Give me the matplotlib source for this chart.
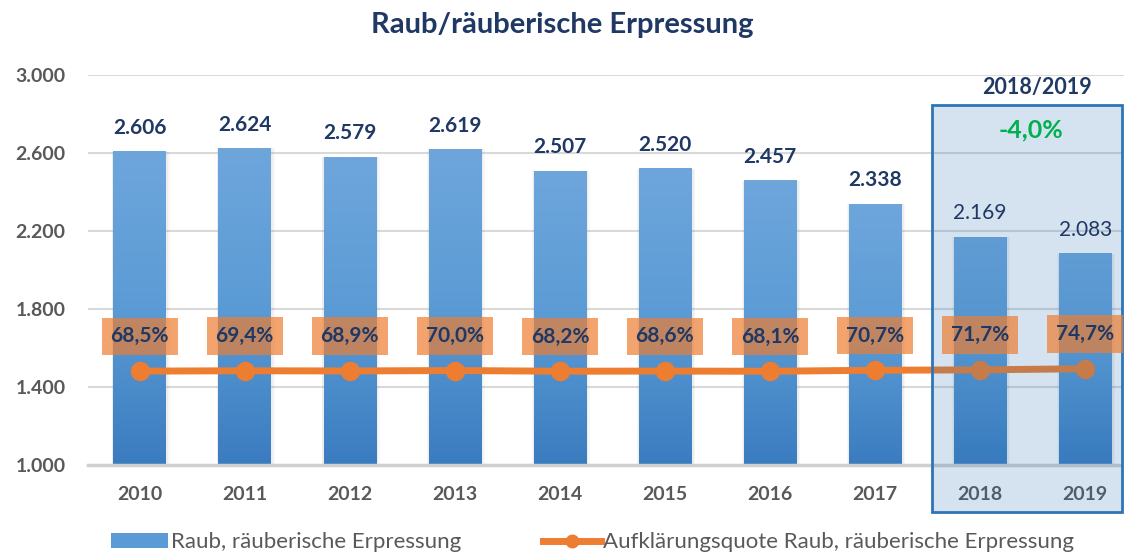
import numpy as np
import matplotlib
matplotlib.use('Agg')
import matplotlib.pyplot as plt
from matplotlib.patches import Rectangle, Patch
from matplotlib.lines import Line2D
from matplotlib.colors import LinearSegmentedColormap

# Fallzahlen und Aufklaerungsquote je Jahr
jahre = ['2010', '2011', '2012', '2013', '2014', '2015', '2016', '2017', '2018', '2019']
faelle = [2606, 2624, 2579, 2619, 2507, 2520, 2457, 2338, 2169, 2083]
quote = [68.5, 69.4, 68.9, 70.0, 68.2, 68.6, 68.1, 70.7, 71.7, 74.7]
y_ticks = [1000, 1400, 1800, 2200, 2600, 3000]
veraenderung = '-4,0%'
zeitraum = '2018/2019'

NAVY = '#1F3864'
GRAU = '#595959'
ORANGE = '#ED7D31'
BLAU = '#2E75B6'

plt.rcParams['font.family'] = ['Lato', 'DejaVu Sans']


def de_zahl(v):
    return f'{v:,.0f}'.replace(',', '.')


def de_prozent(v):
    return f'{v:.1f}%'.replace('.', ',')


fig = plt.figure(figsize=(11.24, 5.53), dpi=100)
ax = fig.add_axes([0.078, 0.159, 0.922, 0.705])
x = np.arange(len(jahre))

# Balken mit Farbverlauf (oben heller, unten dunkler)
verlauf = LinearSegmentedColormap.from_list('verlauf', ['#3A7CC0', '#5B9BD5', '#6EA6DC'])
grad = np.linspace(0, 1, 256).reshape(-1, 1)
breite = 0.5
for xi, v in zip(x, faelle):
    for d, a in [(0.035, 0.06), (0.02, 0.08)]:
        ax.add_patch(Rectangle((xi - breite / 2 - d / 2, 1000 - 8), breite + d * 1.6, v - 1000 + 8 + d * 40,
                               facecolor='#7F7F7F', alpha=a, edgecolor='none', zorder=1.5))
    ax.imshow(grad, cmap=verlauf, origin='lower', aspect='auto', zorder=2,
              extent=(xi - breite / 2, xi + breite / 2, 1000, v))

ax.set_xlim(-0.495, 9.37)
ax.set_ylim(1000, 3000)
ax.set_yticks(y_ticks)
ax.set_yticklabels([de_zahl(t) for t in y_ticks])
ax.set_xticks(x)
ax.set_xticklabels(jahre)
ax.tick_params(axis='both', length=0, colors=GRAU, labelsize=14)
ax.tick_params(axis='y', pad=16)
ax.tick_params(axis='x', pad=15)
for lab in ax.get_xticklabels() + ax.get_yticklabels():
    lab.set_fontweight('bold')
ax.grid(axis='y', color='#D9D9D9', lw=1.5, zorder=0)
ax.set_axisbelow(True)
for s in ['top', 'right', 'left']:
    ax.spines[s].set_visible(False)
ax.spines['bottom'].set_color('#D0D0D0')
ax.spines['bottom'].set_linewidth(2.5)

# Quote auf eigener (unsichtbarer) Achse
ax2 = ax.twinx()
ax2.set_ylim(-172.5, 827.5)
ax2.axis('off')
ax2.plot(x, quote, color=ORANGE, lw=5, marker='o', ms=13, zorder=3)

for i, (xi, q) in enumerate(zip(x, quote)):
    ax2.annotate(de_prozent(q), (xi, q), xytext=(0, 25), textcoords='offset points',
                 ha='center', va='center', fontsize=15, fontweight='bold', color=NAVY, zorder=6,
                 bbox=dict(boxstyle='square,pad=0.42', facecolor=ORANGE, alpha=0.7, edgecolor='none'))

for i, (xi, v) in enumerate(zip(x, faelle)):
    ax2.annotate(de_zahl(v), (xi, v), xycoords=ax.transData, xytext=(0, 10),
                 textcoords='offset points', ha='center', va='bottom', fontsize=15,
                 fontweight='bold' if i < 8 else 'normal', color=NAVY, zorder=6)

# Hervorhebung 2018/2019
ax2.add_patch(Rectangle((7.543, 759), 1.807, 2087, transform=ax.transData, clip_on=False,
                        facecolor=BLAU, alpha=0.2, edgecolor='none', zorder=4))
ax2.add_patch(Rectangle((7.543, 759), 1.807, 2087, transform=ax.transData, clip_on=False,
                        facecolor='none', edgecolor=BLAU, lw=2, zorder=4))
ax2.text(8.543, 2938, zeitraum, transform=ax.transData, ha='center', va='center',
         fontsize=15.5, fontweight='bold', color=NAVY, zorder=6)
ax2.text(8.486, 2718, veraenderung, transform=ax.transData, ha='center', va='center',
         fontsize=18, fontweight='bold', color='#00B050', zorder=6)

fig.text(0.5, 0.955, 'Raub/räuberische Erpressung', ha='center', va='center',
         fontsize=21, fontweight='bold', color=NAVY)

handles = [Patch(facecolor='#5B9BD5', edgecolor='none'),
           Line2D([], [], color=ORANGE, lw=5, marker='o', ms=9)]
fig.legend(handles, ['Raub, räuberische Erpressung', 'Aufklärungsquote Raub, räuberische Erpressung'],
           loc='lower center', bbox_to_anchor=(0.527, -0.035), ncol=2, frameon=False,
           fontsize=16, labelcolor=GRAU, handlelength=2.6, handletextpad=0.1, columnspacing=3.7)

fig.savefig('out.png', dpi=100)
